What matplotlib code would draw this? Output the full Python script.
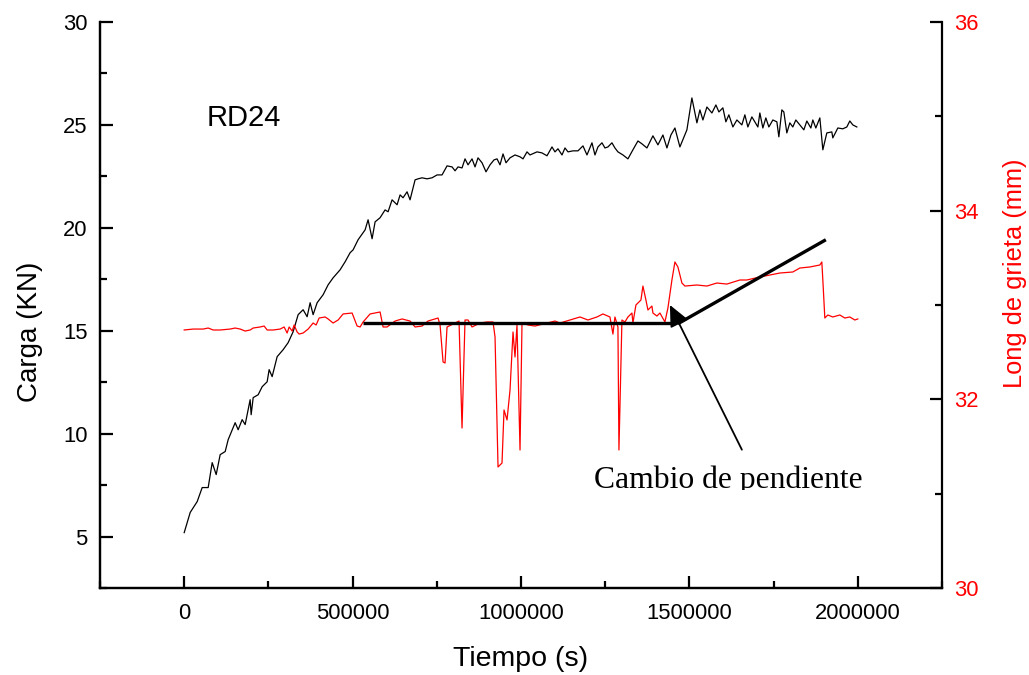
import matplotlib
matplotlib.use("Agg")
import matplotlib.pyplot as plt
from matplotlib.ticker import MultipleLocator, FuncFormatter
from matplotlib.transforms import Bbox, TransformedBbox

plt.rcParams['font.family'] = ['Liberation Sans', 'DejaVu Sans']

# ---- Data: load (Carga, kN) vs time ----
carga_t = [0, 17800, 38600, 53400, 71200, 83100, 95000, 106800, 121700, 130600,
           151300, 160200, 172100, 181000, 195800, 198800, 204800, 219600, 231500, 246300,
           252200, 261100, 276000, 293800, 308600, 323400, 338300, 353100, 365000, 373900,
           382800, 394700, 412500, 427300, 442100, 462900, 477800, 492600, 501500, 516300,
           537100, 546000, 557900, 566800, 581600, 596400, 605400, 617200, 632100, 641000,
           649800, 661700, 670600, 685500, 694400, 706200, 721100, 735900, 750800, 765600,
           780400, 795300, 804200, 813100, 824900, 833800, 842700, 854600, 863500, 872400,
           884300, 896100, 908000, 919900, 928800, 937700, 946600, 955500, 967400, 982200,
           997100, 1006000, 1017800, 1026700, 1047500, 1062300, 1077200, 1092000, 1100900, 1109800,
           1121700, 1130600, 1139500, 1154300, 1169200, 1184000, 1195900, 1210700, 1219600, 1228500,
           1240400, 1249300, 1258200, 1270000, 1278900, 1287800, 1302700, 1317500, 1332300, 1347200,
           1359100, 1373900, 1391700, 1406600, 1421400, 1433300, 1445100, 1457000, 1471800, 1492600,
           1507400, 1522300, 1531200, 1540100, 1552000, 1566800, 1578700, 1587600, 1599400, 1608300,
           1617200, 1629100, 1641000, 1655800, 1664700, 1673600, 1685500, 1694400, 1703300, 1709200,
           1718100, 1727000, 1735900, 1747800, 1759700, 1765600, 1774500, 1780400, 1789300, 1798200,
           1807100, 1816000, 1827900, 1839800, 1848700, 1860600, 1866500, 1875400, 1887300, 1896200,
           1908000, 1922900, 1925800, 1940700, 1955500, 1967400, 1976300, 1985200, 1997100]
carga_kn = [5.19, 6.17, 6.70, 7.38, 7.38, 8.59, 8.01, 8.98, 9.13, 9.71,
            10.53, 10.19, 10.68, 10.44, 11.65, 10.92, 11.75, 11.89, 12.28, 12.52,
            13.11, 12.77, 13.74, 14.08, 14.42, 14.95, 15.78, 16.02, 15.68, 16.36,
            15.78, 16.36, 16.75, 17.23, 17.57, 17.96, 18.35, 18.79, 18.93, 19.42,
            19.90, 20.39, 19.47, 20.29, 20.49, 20.87, 20.78, 21.36, 21.12, 21.60,
            21.46, 21.75, 21.36, 22.33, 22.38, 22.43, 22.38, 22.43, 22.57, 22.57,
            23.01, 22.96, 22.77, 22.96, 22.91, 23.35, 23.06, 23.35, 22.96, 23.40,
            23.16, 22.72, 23.06, 23.30, 23.35, 23.06, 23.59, 23.16, 23.40, 23.54,
            23.45, 23.35, 23.69, 23.54, 23.69, 23.64, 23.50, 23.93, 23.69, 23.84,
            23.54, 23.88, 23.69, 23.74, 23.74, 23.98, 23.54, 24.13, 23.54, 23.93,
            24.13, 23.88, 23.93, 24.13, 23.88, 23.69, 23.54, 23.35, 23.79, 24.22,
            24.08, 23.88, 24.47, 24.03, 24.51, 23.88, 24.51, 24.85, 23.93, 24.76,
            26.31, 25.10, 25.73, 25.24, 25.87, 25.58, 25.97, 25.63, 25.83, 25.15,
            25.49, 24.90, 25.24, 25.00, 25.49, 24.90, 25.39, 25.15, 24.90, 25.58,
            24.85, 25.34, 24.90, 25.24, 25.15, 24.42, 25.73, 25.63, 24.61, 25.10,
            24.90, 25.24, 25.00, 24.76, 25.19, 24.85, 25.24, 24.85, 25.34, 23.79,
            24.61, 24.66, 24.37, 24.85, 24.81, 24.90, 25.19, 25.00, 24.90]

# ---- Data: crack length (Long de grieta, mm) vs time ----
grieta_t = [0, 26700, 56400, 71200, 86000, 106800, 136500, 151300, 166200, 181000,
            195800, 204800, 225500, 237400, 246300, 264100, 284900, 296700, 305600, 311600,
            320500, 326400, 335300, 341300, 353100, 368000, 382800, 391700, 400600, 418400,
            427300, 442100, 457000, 471800, 498500, 513400, 522300, 531200, 551900, 581600,
            590500, 602400, 626100, 646900, 670600, 685500, 706200, 724000, 753700, 759700,
            768600, 774500, 780400, 810100, 816000, 824900, 833800, 842700, 854600, 878400,
            899100, 916900, 922900, 931800, 943600, 949600, 958500, 967400, 976300, 982200,
            988100, 997100, 1003000, 1020800, 1041600, 1077200, 1100900, 1115700, 1145400, 1175100,
            1198800, 1225500, 1243300, 1264100, 1273000, 1278900, 1287800, 1290800, 1299700, 1308600,
            1317500, 1329400, 1332300, 1341200, 1347200, 1356100, 1362000, 1370900, 1376900, 1388700,
            1391700, 1403600, 1412500, 1427300, 1436200, 1448100, 1457000, 1465900, 1477800, 1486700,
            1522300, 1552000, 1581600, 1611300, 1649900, 1670600, 1709200, 1768600, 1807100, 1827900,
            1857600, 1872400, 1887300, 1893200, 1896200, 1902100, 1911000, 1925800, 1946600, 1961500,
            1976300, 1991100, 2000000]
grieta_mm = [32.735, 32.745, 32.745, 32.756, 32.735, 32.735, 32.745, 32.756, 32.745, 32.724,
             32.735, 32.756, 32.767, 32.777, 32.735, 32.735, 32.745, 32.767, 32.703, 32.767,
             32.724, 32.788, 32.714, 32.692, 32.703, 32.745, 32.809, 32.788, 32.862, 32.873,
             32.852, 32.809, 32.841, 32.905, 32.915, 32.777, 32.767, 32.820, 32.905, 32.926,
             32.767, 32.767, 32.830, 32.852, 32.830, 32.767, 32.777, 32.830, 32.862, 32.788,
             32.396, 32.385, 32.767, 32.820, 32.830, 31.696, 32.841, 32.841, 32.767, 32.809,
             32.820, 32.820, 32.661, 31.283, 31.325, 31.887, 31.781, 32.099, 32.714, 32.449,
             32.788, 31.463, 32.809, 32.788, 32.777, 32.809, 32.830, 32.809, 32.841, 32.873,
             32.841, 32.873, 32.905, 32.873, 32.692, 32.873, 32.767, 31.463, 32.841, 32.820,
             32.873, 32.915, 32.809, 33.000, 33.021, 33.053, 33.201, 33.053, 32.947, 32.989,
             32.915, 32.883, 32.915, 32.820, 32.968, 33.265, 33.456, 33.403, 33.233, 33.201,
             33.212, 33.201, 33.233, 33.222, 33.265, 33.265, 33.297, 33.339, 33.350, 33.392,
             33.403, 33.413, 33.424, 33.456, 33.265, 32.862, 32.894, 32.873, 32.894, 32.862,
             32.873, 32.841, 32.852]

# ---- Annotation geometry (time, kN on left axis) ----
hline_t = [531200, 1448100]
hline_kn = [15.39, 15.39]
diag_t = [1905100, 1465900]
diag_kn = [19.42, 15.34]
arrow_tip = (1442100, 16.25)
arrow_tail = (1655800, 9.22)
label_pos = (1216600, 7.38)

fig = plt.figure(figsize=(10.29, 6.75), dpi=100)
ax = fig.add_axes([100/1029, 1-588/675, (942-100)/1029, (588-22)/675])
ax2 = ax.twinx()

ax.plot(carga_t, carga_kn, color='black', lw=0.9)
ax2.plot(grieta_t, grieta_mm, color='#ff0000', lw=0.9)

ax.set_xlim(-250000, 2250000)
ax.set_ylim(2.5, 30)
ax2.set_ylim(30, 36)

for a in (ax, ax2):
    a.spines['top'].set_visible(False)
    for s in a.spines.values():
        s.set_linewidth(1.6)
ax.spines['right'].set_visible(False)

ax.xaxis.set_major_locator(MultipleLocator(500000))
ax.xaxis.set_minor_locator(MultipleLocator(250000))
ax.xaxis.set_major_formatter(FuncFormatter(lambda v, p: '%d' % v if 0 <= v <= 2000000 else ''))
ax.yaxis.set_major_locator(MultipleLocator(5))
ax.yaxis.set_minor_locator(MultipleLocator(2.5))
ax2.yaxis.set_major_locator(MultipleLocator(2))
ax2.yaxis.set_minor_locator(MultipleLocator(1))

ax.tick_params(axis='both', which='major', direction='in', length=9, width=1.6,
               labelsize=15.8, pad=9, top=False, right=False)
ax.tick_params(axis='both', which='minor', direction='in', length=5, width=1.6,
               top=False, right=False)
ax.tick_params(axis='x', which='major', pad=11)
ax2.tick_params(axis='y', which='major', direction='in', length=9, width=1.6,
                labelsize=15.8, pad=9, labelcolor='#ff0000')
ax2.tick_params(axis='y', which='minor', direction='in', length=5, width=1.6)

# annotations (on top of red line)
ax2.plot(hline_t, hline_kn, color='black', lw=2.4, transform=ax.transData,
         solid_capstyle='butt')
ax2.plot(diag_t, diag_kn, color='black', lw=2.4, transform=ax.transData,
         solid_capstyle='butt')
ax2.annotate('', xy=arrow_tip, xytext=arrow_tail,
             xycoords=ax.transData, textcoords=ax.transData,
             arrowprops=dict(arrowstyle='-|>,head_length=0.65,head_width=0.3',
                             mutation_scale=20, lw=1.3, color='black',
                             shrinkA=0, shrinkB=0))

ax.text(68000, 24.95, 'RD24', fontsize=21, ha='left', va='baseline')

txt = ax2.text(label_pos[0], label_pos[1], 'Cambio de pendiente', transform=ax.transData,
               fontsize=22.8, family=['Liberation Serif', 'DejaVu Serif'],
               ha='left', va='baseline')
clip = TransformedBbox(Bbox([[0, 1-489.5/675], [1, 1]]), fig.transFigure)
txt.set_clip_box(clip)
txt.set_clip_on(True)

fig.text(30/1029, 1-332/675, 'Carga (KN)', rotation=90, fontsize=20,
         ha='center', va='center')
fig.text(521/1029, 1-659/675, 'Tiempo (s)', fontsize=20.5, ha='center', va='center')
fig.text(1015/1029, 1-273/675, 'Long de grieta (mm)', rotation=90, fontsize=18.3,
         color='#ff0000', ha='center', va='center')

fig.savefig('out.png', dpi=100)
